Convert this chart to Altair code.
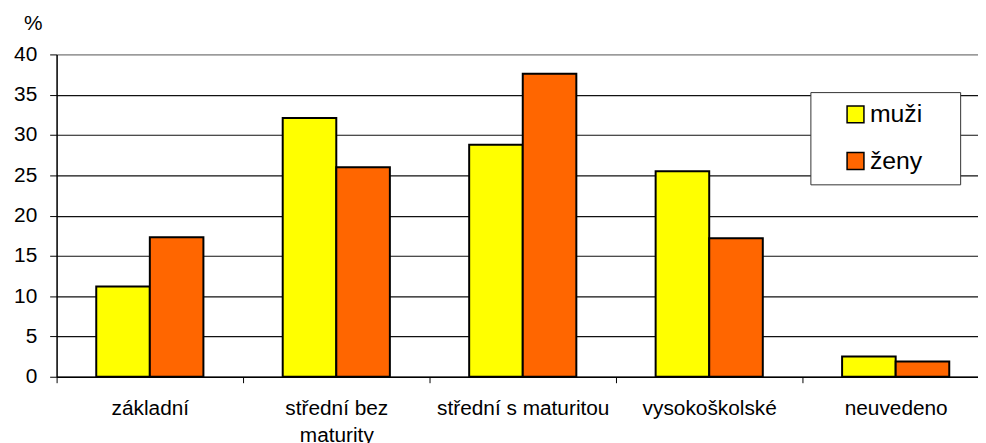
import altair as alt
import pandas as pd

categories = ["základní", "střední bez\nmaturity", "střední s maturitou", "vysokoškolské", "neuvedeno"]
series = ["muži", "ženy"]
muzi = [11.2, 32.1, 28.8, 25.5, 2.5]
zeny = [17.3, 26.0, 37.6, 17.2, 1.9]
y_ticks = [0, 5, 10, 15, 20, 25, 30, 35, 40]
colors = ["#FFFF00", "#FF6600"]

rows = []
for c, m, z in zip(categories, muzi, zeny):
    rows.append({"kat": c, "pohlavi": series[0], "hodnota": m})
    rows.append({"kat": c, "pohlavi": series[1], "hodnota": z})
df = pd.DataFrame(rows)

FONT = "Liberation Sans"
PAD = "\u00a0" * 4 + "\u200b"

chart = alt.Chart(df).mark_bar(stroke="black", strokeWidth=2).encode(
    x=alt.X(
        "kat:N",
        sort=categories,
        scale=alt.Scale(range=[0, 940], paddingInner=0, paddingOuter=0),
        axis=alt.Axis(
            title=None,
            labelAngle=0,
            labelFontSize=21,
            labelFont=FONT,
            labelColor="black",
            labelPadding=15,
            labelLineHeight=27,
            labelBaseline="top",
            labelExpr="split(datum.label, '\\n')",
            tickBand="extent",
            tickSize=6,
            tickColor="black",
            domainColor="black",
            domainWidth=1.5,
            grid=False,
        ),
    ),
    xOffset=alt.XOffset(
        "pohlavi:N",
        sort=series,
        scale=alt.Scale(paddingInner=0, paddingOuter=0.74),
    ),
    y=alt.Y(
        "hodnota:Q",
        scale=alt.Scale(domain=[0, 40], nice=False),
        axis=alt.Axis(
            values=y_ticks,
            title="%",
            titleAngle=0,
            titleX=-24,
            titleY=-31,
            titleAlign="center",
            titleBaseline="middle",
            titleFontSize=21,
            titleFont=FONT,
            titleFontWeight="normal",
            labelFontSize=21,
            labelFont=FONT,
            labelColor="black",
            labelPadding=13,
            tickSize=7,
            tickColor="black",
            domainColor="black",
            domainWidth=1.5,
            grid=True,
            gridColor=alt.condition("datum.value == 40", alt.value("#808080"), alt.value("#111111")),
            gridWidth=1.2,
        ),
    ),
    color=alt.Color(
        "pohlavi:N",
        sort=series,
        scale=alt.Scale(domain=series, range=colors),
        legend=alt.Legend(
            title=None,
            orient="none",
            legendX=760,
            legendY=38,
            fillColor="white",
            strokeColor="#333333",
            padding=10,
            symbolType="square",
            symbolSize=289,
            symbolStrokeColor="black",
            symbolStrokeWidth=1.5,
            symbolOffset=23,
            labelFontSize=25,
            labelFont=FONT,
            labelColor="black",
            labelOffset=2,
            labelLimit=300,
            rowPadding=21,
            labelExpr="datum.label + '" + PAD + "'",
        ),
    ),
).properties(
    width=929,
    height=325,
    autosize=alt.AutoSizeParams(type="none"),
    padding={"left": 49, "top": 45, "right": 0, "bottom": 65},
).configure_view(
    fill="#99CCFF",
    stroke="#808080",
    strokeWidth=1.5,
).configure(background="white")

chart.save("out.html", embed_options={"renderer": "svg", "actions": False})
